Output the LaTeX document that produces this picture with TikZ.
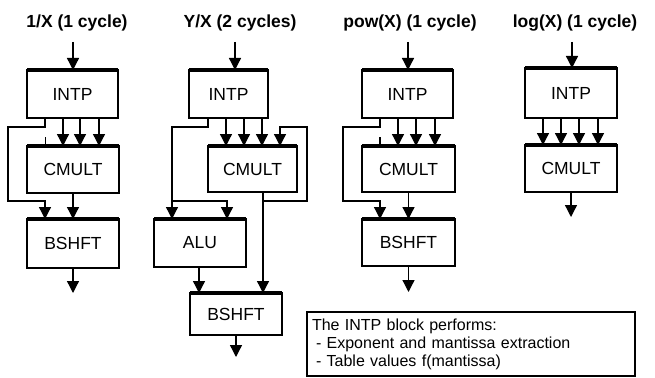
\documentclass[tikz,border=0pt]{standalone}
\usepackage{fontspec}
\setmainfont{Liberation Sans}
\usetikzlibrary{arrows.meta}
\begin{document}
\begin{tikzpicture}[x=1pt,y=-1pt,
  blk/.style={draw, line width=1.5pt, rectangle, outer sep=0pt, inner sep=0pt, font=\fontsize{17.5}{20}\selectfont},
  ttl/.style={font=\bfseries\fontsize{17.5}{20}\selectfont},
  wire/.style={line width=1.3pt},
  arr/.style={wire, -{Triangle[width=12pt,length=12pt]}},
  topedge/.style={line width=3.5pt},
  notebox/.style={draw, line width=2.2pt, text width=318pt, minimum height=64pt, inner xsep=5pt, inner ysep=0pt, outer sep=0pt, align=left, font=\fontsize{16}{18}\selectfont}
]
\useasboundingbox (0,0) rectangle (655,377);

% ---------- 1/X ----------
\node[ttl] (t1) at (77,23) {1/X (1 cycle)};
\node[blk, minimum width=91pt, minimum height=48pt] (i1) at (72.5,94) {INTP};
\node[blk, minimum width=92pt, minimum height=47pt] (c1) at (73,169.5) {CMULT};
\node[blk, minimum width=92pt, minimum height=49pt] (b1) at (73,243.5) {BSHFT};
\foreach \n in {i1,c1,b1} \draw[topedge] (\n.north west) -- (\n.north east);
\coordinate (in1) at (73,42);
\coordinate (out1) at (73,293);
\coordinate (l1) at (8,201);
\draw[arr] (in1) -- (in1 |- i1.north);
\foreach \d in {-9.5,7.5,26.5}
  \draw[arr] ([xshift=\d pt]i1.south) -- ([xshift=\d pt]i1.south |- c1.north);
\draw[wire] ([xshift=-27.5pt]c1.north) -- ++(0,-9);
\draw[arr] ([xshift=-27.5pt]i1.south) -- ++(0,9) -| (l1) -| ([xshift=-28pt]b1.north);
\draw[arr] (c1.south) -- (b1.north);
\draw[arr] (b1.south) -- (out1);

% ---------- Y/X ----------
\node[ttl] (t2) at (240,23) {Y/X (2 cycles)};
\node[blk, minimum width=79pt, minimum height=48pt] (i2) at (228.5,94) {INTP};
\node[blk, minimum width=89pt, minimum height=46pt] (c2) at (252.5,169) {CMULT};
\node[blk, minimum width=92pt, minimum height=48pt] (a2) at (200,243) {ALU};
\node[blk, minimum width=92pt, minimum height=42pt] (b2) at (236,314) {BSHFT};
\foreach \n in {i2,c2,a2,b2} \draw[topedge] (\n.north west) -- (\n.north east);
\coordinate (in2) at (235,42);
\coordinate (out2) at (236,357);
\coordinate (j2) at (172,201);
\coordinate (k2) at (263,201);
\coordinate (r2) at (307,127);
\draw[arr] (in2) -- (in2 |- i2.north);
\foreach \d in {-2.5,15.5,33.5}
  \draw[arr] ([xshift=\d pt]i2.south) -- ([xshift=\d pt]i2.south |- c2.north);
\draw[arr] ([xshift=-20.5pt]i2.south) -- ++(0,9) -| ([xshift=-28pt]a2.north);
\draw[arr] (j2) -| ([xshift=27pt]a2.north);
\draw[arr] ([xshift=-1pt]a2.south) -- ([xshift=-1pt]a2.south |- b2.north);
\draw[arr] ([xshift=10.5pt]c2.south) -- ([xshift=10.5pt]c2.south |- b2.north);
\draw[arr] (k2) -| (r2) -| ([xshift=27.5pt]c2.north);
\draw[arr] (b2.south) -- (out2);

% ---------- pow(X) ----------
\node[ttl] (t3) at (410,23) {pow(X) (1 cycle)};
\node[blk, minimum width=91pt, minimum height=48pt] (i3) at (407.5,94) {INTP};
\node[blk, minimum width=93pt, minimum height=46pt] (c3) at (408.5,169) {CMULT};
\node[blk, minimum width=93pt, minimum height=47pt] (b3) at (408.5,242.5) {BSHFT};
\foreach \n in {i3,c3,b3} \draw[topedge] (\n.north west) -- (\n.north east);
\coordinate (in3) at (408,42);
\coordinate (out3) at (408.5,292);
\coordinate (l3) at (343,201);
\draw[arr] (in3) -- (in3 |- i3.north);
\foreach \d in {-9.5,8.5,27.5}
  \draw[arr] ([xshift=\d pt]i3.south) -- ([xshift=\d pt]i3.south |- c3.north);
\draw[wire] ([xshift=-28.5pt]c3.north) -- ++(0,-9);
\draw[arr] ([xshift=-27.5pt]i3.south) -- ++(0,9) -| (l3) -| ([xshift=-28.5pt]b3.north);
\draw[arr] (c3.south) -- (b3.north);
\draw[arr] (b3.south) -- (out3);

% ---------- log(X) ----------
\node[ttl] (t4) at (575,23) {log(X) (1 cycle)};
\node[blk, minimum width=92pt, minimum height=50pt] (i4) at (571,93) {INTP};
\node[blk, minimum width=92pt, minimum height=47pt] (c4) at (571,168.5) {CMULT};
\foreach \n in {i4,c4} \draw[topedge] (\n.north west) -- (\n.north east);
\coordinate (in4) at (572,42);
\coordinate (out4) at (571,217);
\draw[arr] (in4) -- (in4 |- i4.north);
\foreach \d in {-28,-10,8,27}
  \draw[arr] ([xshift=\d pt]i4.south) -- ([xshift=\d pt]i4.south |- c4.north);
\draw[arr] (c4.south) -- (out4);

% ---------- note ----------
\node[notebox] (note) at (471,344) {The INTP block performs:\\\hspace*{4pt}- Exponent and mantissa extraction\\\hspace*{4pt}- Table values f(mantissa)};
\end{tikzpicture}
\end{document}
